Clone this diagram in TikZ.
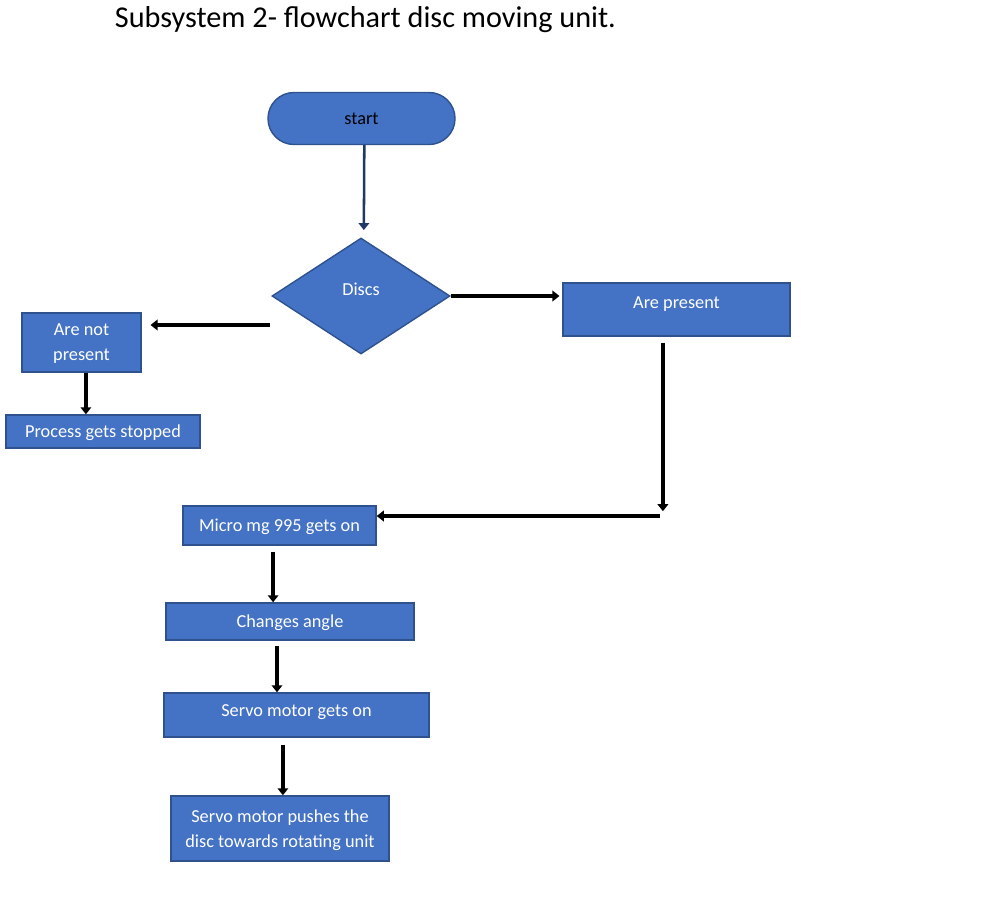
\documentclass[tikz,border=0pt]{standalone}
\usepackage{fontspec}
\setmainfont{Carlito}
\usetikzlibrary{arrows.meta, shapes.geometric}
\definecolor{boxblue}{HTML}{4472C4}
\definecolor{boxline}{HTML}{2F528F}
\definecolor{navy}{HTML}{1F3864}
\tikzset{>={Triangle[length=5pt, width=7.5pt]}}
\tikzset{
  boxtext/.style={text=white, font=\fontsize{13}{17.7}\selectfont, align=center},
  stepbox/.style={draw=boxline, fill=boxblue, line width=1pt, inner sep=0pt, text depth=0pt, boxtext},
  flow/.style={->, line width=3.2pt},
}

\begin{document}
\begin{tikzpicture}[x=0.025cm, y=-0.025cm]
\useasboundingbox (0,0) rectangle (984,913);
\node[anchor=west, font=\fontsize{21.5}{25}\selectfont] (title) at (110,20) {Subsystem 2- flowchart disc moving unit.};
\node[stepbox, text=black, rounded corners=0.65cm, minimum width=4.675cm, minimum height=1.3cm] (start) at (361.5,118.5) {start};
\node[stepbox, diamond, minimum width=4.45cm, minimum height=2.9cm, label={[boxtext, yshift=0.16cm]center:Discs}] (discs) at (361,296) {};
\node[stepbox, minimum width=5.675cm, minimum height=1.325cm, label={[boxtext, yshift=0.14cm]center:Are present}] (arepresent) at (676.5,309.5) {};
\node[stepbox, minimum width=2.975cm, minimum height=1.475cm] (arenot) at (81.5,342.5) {Are not\\present};
\node[stepbox, minimum width=4.85cm, minimum height=0.825cm] (stopped) at (103,431.5) {Process gets stopped};
\node[stepbox, minimum width=4.825cm, minimum height=0.975cm] (micro) at (279.5,525.5) {Micro mg 995 gets on};
\node[stepbox, minimum width=6.2cm, minimum height=0.925cm] (angle) at (290,621.5) {Changes angle};
\node[stepbox, minimum width=6.625cm, minimum height=1.1cm, label={[boxtext, yshift=0.06cm]center:Servo motor gets on}] (servoon) at (296.5,715) {};
\node[stepbox, minimum width=5.45cm, minimum height=1.625cm] (pushes) at (280,828.5) {Servo motor pushes the\\disc towards rotating unit};
\coordinate (nobranch) at (270,325);
\coordinate (turn) at (660,516);

\draw[->, navy, line width=1.8pt, shorten >=0.18cm] ([xshift=0.07cm]start.south) -- ([xshift=0.07cm]discs.north);
\draw[flow, line width=2.2pt, shorten >=0.07cm] (discs.east) -- (discs.east -| arepresent.west);
\draw[flow, shorten >=0.22cm] (nobranch) -- (nobranch -| arenot.east);
\draw[flow] ([xshift=0.11cm]arenot.south) -- ([xshift=0.11cm]arenot.south |- stopped.north);
\draw[flow, shorten <=0.15cm, shorten >=0.12cm] ([xshift=-0.34cm]arepresent.south) -- ([xshift=-0.34cm]arepresent.south |- turn);
\draw[flow, line width=2.8pt] (turn) -- (turn -| micro.east);
\draw[flow, shorten <=0.15cm] ([xshift=-0.16cm]micro.south) -- ([xshift=-0.16cm]micro.south |- angle.north);
\draw[flow, shorten <=0.12cm] ([xshift=-0.325cm]angle.south) -- ([xshift=-0.325cm]angle.south |- servoon.north);
\draw[flow, shorten <=0.17cm] ([xshift=-0.34cm]servoon.south) -- ([xshift=-0.34cm]servoon.south |- pushes.north);
\end{tikzpicture}
\end{document}
